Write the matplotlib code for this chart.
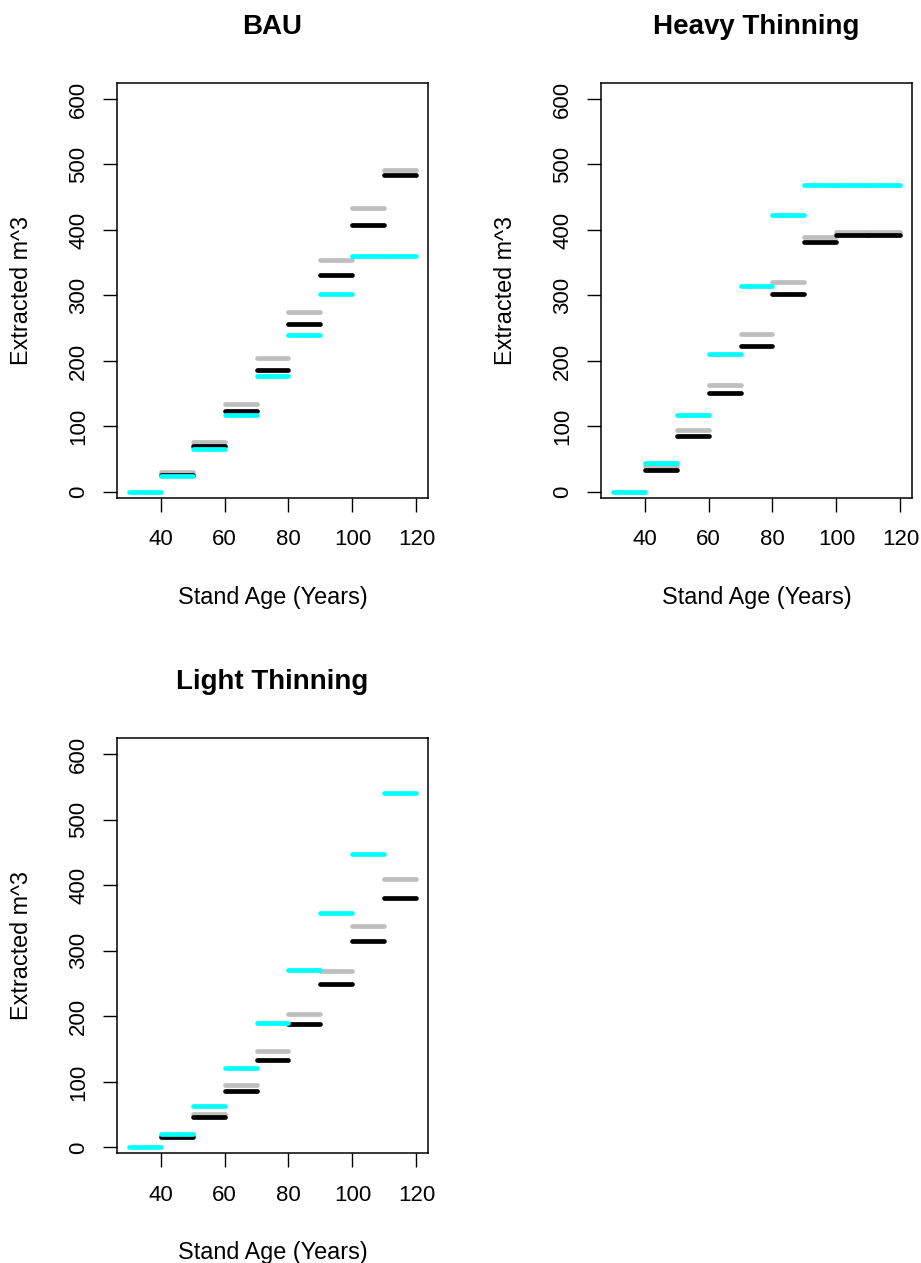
import matplotlib.pyplot as plt

plt.rcParams['font.family'] = ['Liberation Sans', 'DejaVu Sans']

# stand age intervals (start and end of each 10-year period)
age_start = [30, 40, 50, 60, 70, 80, 90, 100, 110]
age_end = [40, 50, 60, 70, 80, 90, 100, 110, 120]

# extracted volume per period; grey and black series start at age 40
bau_grey = [31, 77, 135, 204, 275, 354, 433, 491]
bau_black = [26, 70, 123, 187, 257, 331, 407, 484]
bau_cyan = [0, 25, 65, 118, 177, 240, 303, 361, 361]

heavy_grey = [39, 95, 164, 241, 320, 390, 397, 397]
heavy_black = [34, 86, 151, 223, 302, 381, 393, 393]
heavy_cyan = [0, 44, 117, 210, 314, 423, 468, 468, 468]

light_grey = [19, 51, 96, 147, 204, 269, 337, 409]
light_black = [16, 46, 86, 133, 188, 250, 315, 381]
light_cyan = [0, 21, 64, 121, 190, 270, 358, 447, 540]

W, H = 921, 1263
fig = plt.figure(figsize=(W / 100, H / 100), dpi=100)


def panel(left, top, right, bottom, title, grey, black, cyan):
    # axes placed in pixel units
    ax = fig.add_axes([left / W, 1 - bottom / H, (right - left) / W, (bottom - top) / H])
    for vals, col in [(grey, '#BEBEBE'), (black, 'black'), (cyan, '#00FFFF')]:
        n = len(vals)
        ax.hlines(vals, age_start[-n:], age_end[-n:], colors=col, lw=3.4,
                  capstyle='round')
    ax.set_xlim(26.4, 123.6)
    ax.set_ylim(-8.4, 624.4)
    ax.set_xticks([40, 60, 80, 100, 120])
    ax.set_yticks([0, 100, 200, 300, 400, 500, 600])
    ax.tick_params(axis='both', length=10, width=1, labelsize=16, color='black')
    ax.tick_params(axis='x', pad=13)
    ax.tick_params(axis='y', pad=10)
    for lab in ax.get_yticklabels():
        lab.set_rotation(90)
        lab.set_va('center')
    for sp in ax.spines.values():
        sp.set_linewidth(1.1)

    cx = (left + right) / 2
    fig.text(cx / W, 1 - (top - 56) / H, title, ha='center', va='center',
             fontsize=20, fontweight='bold')
    fig.text(cx / W, 1 - (bottom + 100) / H, 'Stand Age (Years)', ha='center',
             va='center', fontsize=16.8)
    fig.text((left - 95) / W, 1 - ((top + bottom) / 2) / H, 'Extracted m^3',
             ha='center', va='center', rotation=90, fontsize=16.8)
    return ax


panel(117, 83, 428, 497.5, 'BAU', bau_grey, bau_black, bau_cyan)
panel(601, 83, 912, 497.5, 'Heavy Thinning', heavy_grey, heavy_black, heavy_cyan)
panel(117, 738, 428, 1153, 'Light Thinning', light_grey, light_black, light_cyan)

fig.savefig('out.png', dpi=100)
